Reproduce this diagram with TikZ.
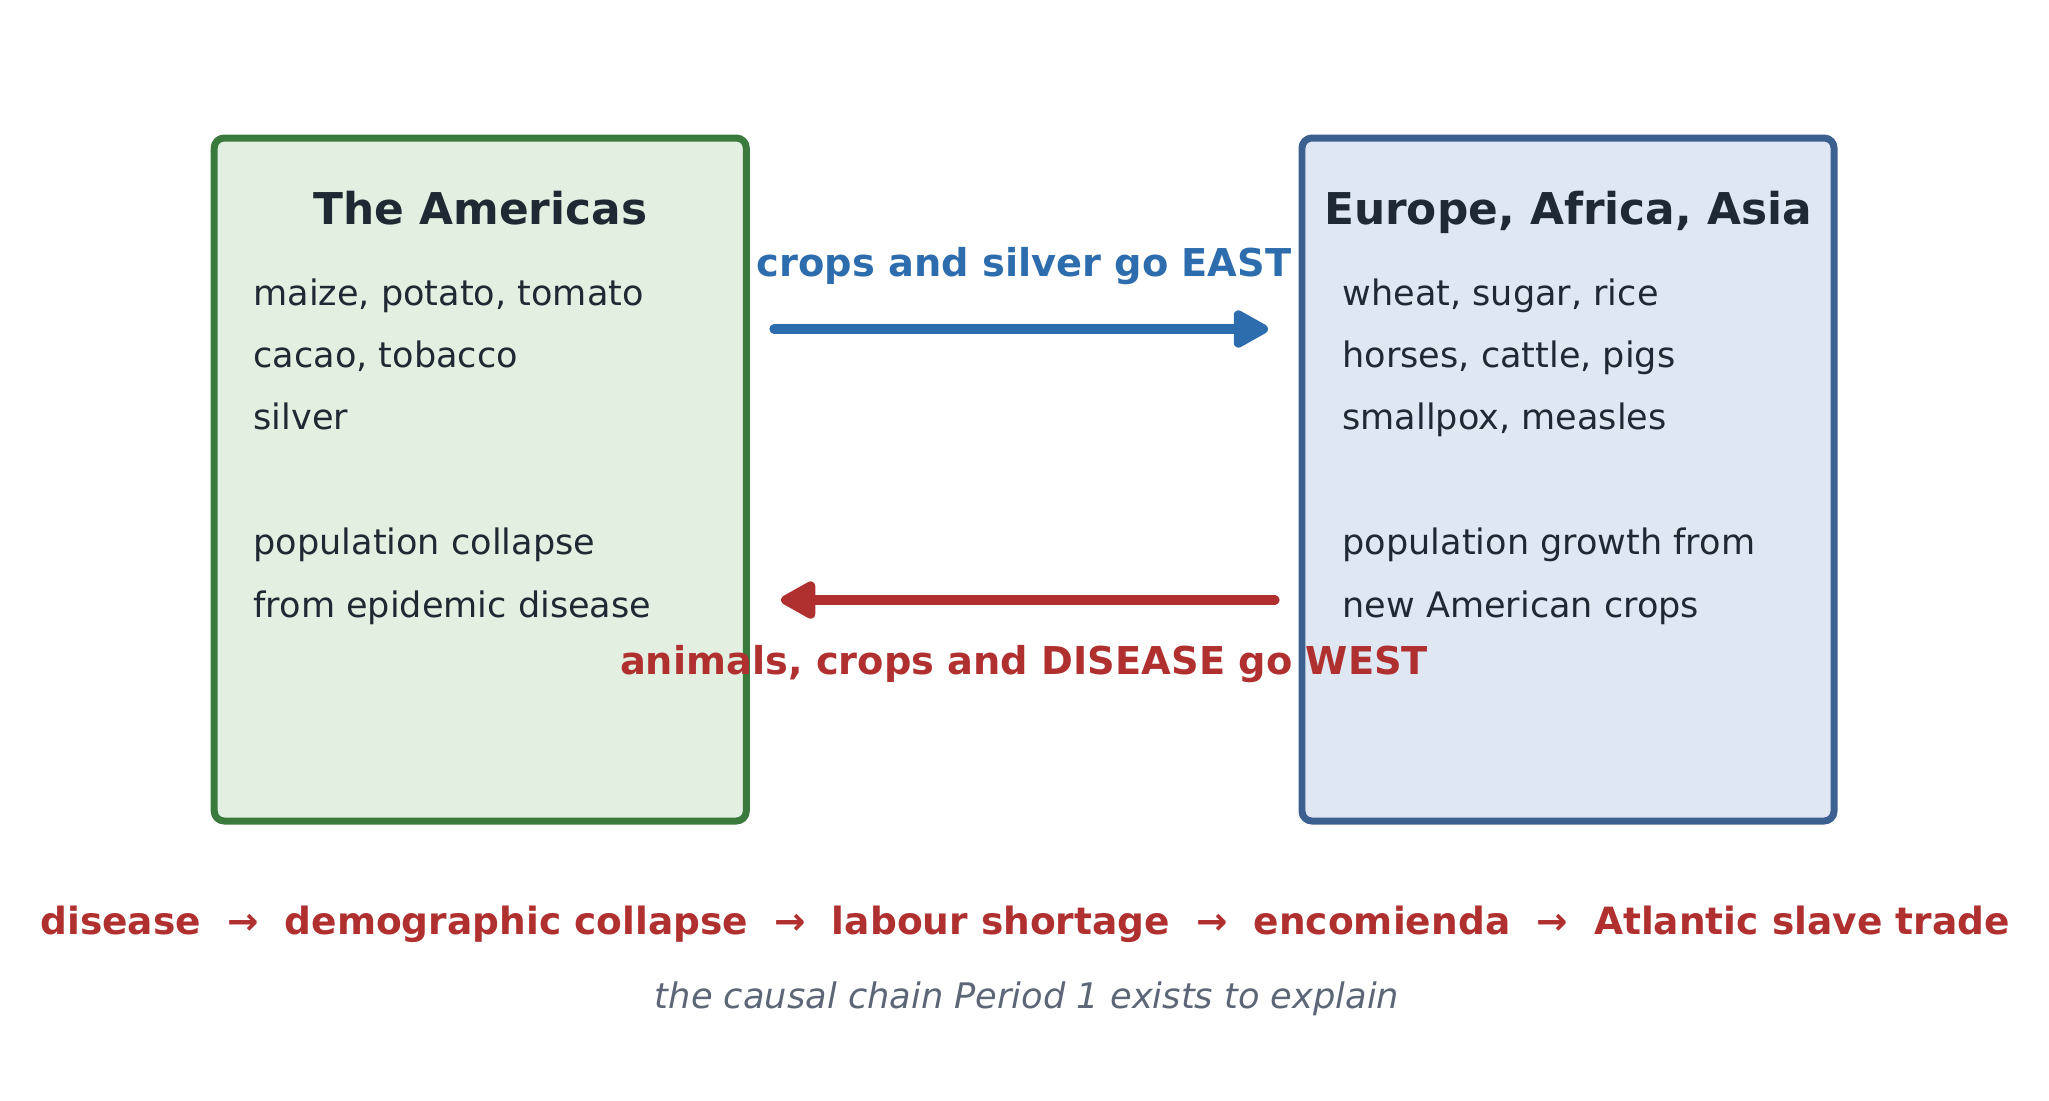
\documentclass[tikz,border=0pt]{standalone}
\usepackage{fontspec}
\setmainfont{DejaVu Sans}
\usetikzlibrary{arrows.meta}
\usepackage{xcolor}
\definecolor{amerline}{HTML}{3B7A3D}
\definecolor{amerfill}{HTML}{E3EFE1}
\definecolor{oldline}{HTML}{3C6090}
\definecolor{oldfill}{HTML}{DFE7F2}
\definecolor{inkdark}{HTML}{1F2933}
\definecolor{eastblue}{HTML}{2E6DAD}
\definecolor{westred}{HTML}{B03030}
\definecolor{notegray}{HTML}{5C6677}

\begin{document}
\begin{tikzpicture}[line cap=round,line join=round,x=0.365pt,y=-0.365pt,
  panel/.style={draw,line width=2.55pt,rounded corners=3.6pt,minimum width=194.2pt,minimum height=249.3pt,inner sep=0pt},
  head/.style={anchor=base,inner sep=0pt,text=inkdark,font=\bfseries\fontsize{16}{19}\selectfont},
  item/.style={anchor=base west,inner sep=0pt,text=inkdark,font=\fontsize{12.8}{15}\selectfont},
  flow/.style={line width=3.4pt,-{Triangle[length=14.5pt,width=15pt,round]}},
  flowlabel/.style={anchor=base,inner sep=0pt,font=\bfseries\fontsize{14}{17}\selectfont}]
\useasboundingbox (0,0) rectangle (2049,1100);
% the two worlds
\node[panel,draw=amerline,fill=amerfill] (amer) at (480.25,479.5) {};
\node[panel,draw=oldline,fill=oldfill] (old) at (1568,479.5) {};
\node[head] (amertitle) at (480.25,224.5) {The Americas};
\node[head] (oldtitle) at (1568,224.5) {Europe, Africa, Asia};
\foreach \t/\r in {{maize, potato, tomato}/0,{cacao, tobacco}/1,silver/2,{population collapse}/4,{from epidemic disease}/5}
\node[item] (am\r) at (253,{305+62.4*\r}) {\t};
\foreach \t/\r in {{wheat, sugar, rice}/0,{horses, cattle, pigs}/1,{smallpox, measles}/2,{population growth from}/4,{new American crops}/5}
\node[item] (ol\r) at (1342,{305+62.4*\r}) {\t};
% exchange arrows
\coordinate (eastfrom) at (774,329);
\coordinate (eastto) at (1268,329);
\coordinate (westfrom) at (1275,600);
\coordinate (westto) at (781,600);
\draw[flow,color=eastblue] (eastfrom) -- (eastto);
\draw[flow,color=westred] (westfrom) -- (westto);
\node[flowlabel,text=eastblue] (eastlabel) at (1024,276) {crops and silver go EAST};
\node[flowlabel,text=westred] (westlabel) at (1024,674) {animals, crops and DISEASE go WEST};
% causal chain
\node[flowlabel,text=westred,font=\bfseries\fontsize{13.7}{17}\selectfont] (chain) at (1025,934) {disease~~→~~demographic collapse~~→~~labour shortage~~→~~encomienda~~→~~Atlantic slave trade};
\node[anchor=base,inner sep=0pt,text=notegray,font=\itshape\fontsize{12.85}{15}\selectfont] (note) at (1027,1008) {the causal chain Period 1 exists to explain};
\end{tikzpicture}
\end{document}
